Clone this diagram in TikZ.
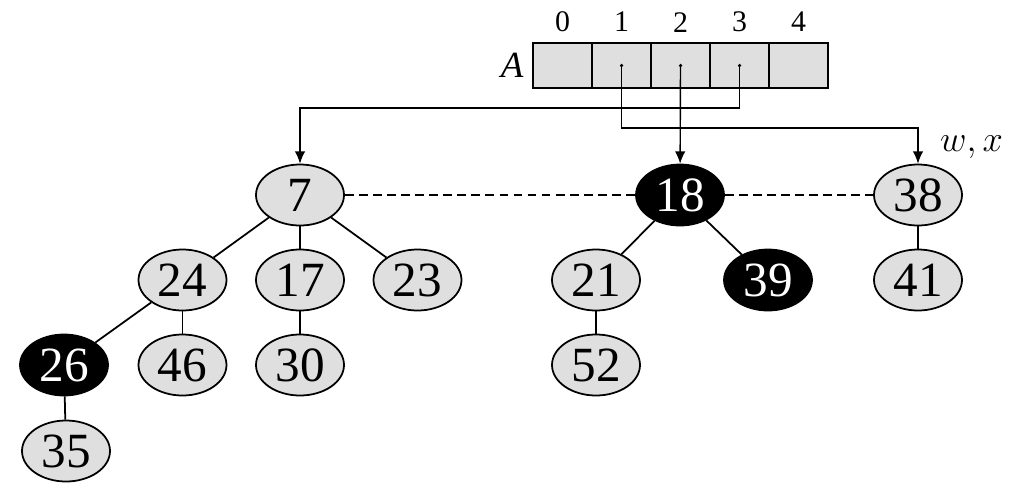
\documentclass[tikz,border=0pt]{standalone}
\usepackage{fontspec}
\setmainfont{Liberation Serif}
\usetikzlibrary{shapes.geometric, arrows.meta, positioning, calc}

\begin{document}
\begin{tikzpicture}[
    heapnode/.style={draw, ellipse, fill=gray!25, line width=1pt, minimum width=1.76cm, minimum height=1.22cm, inner sep=0pt, font=\fontsize{28}{30}\selectfont},
    marknode/.style={heapnode, fill=black, text=white},
    cell/.style={draw, rectangle, fill=gray!25, line width=1pt, minimum width=1.18cm, minimum height=0.9cm, inner sep=0pt},
    ptr/.style={line width=0.8pt, -{Latex[length=7pt, width=6pt]}},
    tree/.style={line width=1pt}
  ]
    \useasboundingbox (0,0) rectangle (20.32,9.8);

    % Arreglo A
    \foreach \i in {0,...,4} {
        \node [cell] (A\i) at ({11.25+1.18*\i}, 8.49) {};
        \node [font=\fontsize{17}{19}\selectfont] at ($(A\i.north)+(0,0.4)$) {\i};
    }
    \node [left=0.05cm of A0, font=\fontsize{21}{23}\selectfont\itshape] (lblA) {A};

    % Lista de raices
    \node [heapnode] (n7) at (6.0, 5.9) {7};
    \node [marknode] (n18) at (13.6, 5.9) {18};
    \node [heapnode] (n38) at (18.36, 5.9) {38};
    \draw [dashed, line width=0.9pt, dash pattern=on 5pt off 3pt] (n7) -- (n18) -- (n38);
    \node [font=\fontsize{20}{22}\selectfont] (lblwx) at (19.43, 6.86) {$w,x$};

    % Hijos
    \node [heapnode] (n24) at (3.65, 4.2) {24};
    \node [heapnode] (n17) at (6.0, 4.2) {17};
    \node [heapnode] (n23) at (8.35, 4.2) {23};
    \node [heapnode] (n21) at (11.92, 4.2) {21};
    \node [marknode] (n39) at (15.36, 4.2) {39};
    \node [heapnode] (n41) at (18.36, 4.2) {41};
    \node [marknode] (n26) at (1.28, 2.5) {26};
    \node [heapnode] (n46) at (3.65, 2.5) {46};
    \node [heapnode] (n30) at (6.0, 2.5) {30};
    \node [heapnode] (n52) at (11.92, 2.5) {52};
    \node [heapnode] (n35) at (1.32, 0.78) {35};

    \draw [tree] (n7) -- (n24);
    \draw [tree] (n7) -- (n17);
    \draw [tree] (n7) -- (n23);
    \draw [tree] (n24) -- (n26);
    \draw [tree] (n24) -- (n46);
    \draw [tree] (n17) -- (n30);
    \draw [tree] (n26) -- (n35);
    \draw [tree] (n18) -- (n21);
    \draw [tree] (n18) -- (n39);
    \draw [tree] (n21) -- (n52);
    \draw [tree] (n38) -- (n41);

    % Punteros
    \fill (A1.center) circle (1pt);
    \fill (A2.center) circle (1pt);
    \fill (A3.center) circle (1pt);
    \draw [ptr] (A1.center) -- ++(0,-1.25) -| (n38);
    \draw [ptr] (A2.center) -- (n18);
    \draw [ptr] (A3.center) -- ++(0,-0.85) -| (n7);
  \end{tikzpicture}
\end{document}
